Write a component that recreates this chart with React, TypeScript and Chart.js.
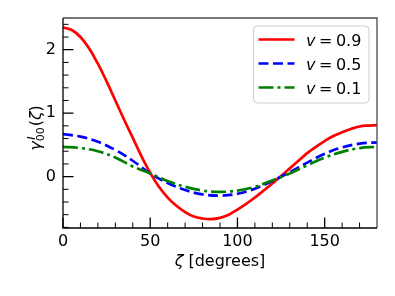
import { useEffect, useRef } from "react";
import { Chart, registerables } from "chart.js";

Chart.register(...registerables);

// ---- data ----
const zetaFine = [0, 5, 10, 15, 20, 25, 30, 35, 40, 45, 50, 55, 60, 65, 70, 75, 80, 85, 90, 95, 100, 105, 110, 115, 120, 125, 130, 135, 140, 145, 150, 155, 160, 165, 170, 175, 180];
const gammaV09 = [2.35, 2.31, 2.2, 2.02, 1.78, 1.5, 1.2, 0.9, 0.61, 0.32, 0.06, -0.16, -0.33, -0.46, -0.56, -0.63, -0.66, -0.67, -0.65, -0.6, -0.52, -0.43, -0.33, -0.22, -0.11, 0.01, 0.13, 0.25, 0.37, 0.47, 0.56, 0.64, 0.7, 0.75, 0.79, 0.805, 0.81];
const zetaCoarse = [0, 10, 20, 30, 40, 50, 60, 70, 80, 90, 100, 110, 120, 130, 140, 150, 160, 170, 180];
const gammaV05 = [0.67, 0.63, 0.55, 0.42, 0.25, 0.05, -0.1, -0.21, -0.28, -0.3, -0.27, -0.19, -0.07, 0.07, 0.22, 0.36, 0.46, 0.52, 0.54];
const gammaV01 = [0.47, 0.45, 0.4, 0.3, 0.16, 0.05, -0.07, -0.16, -0.22, -0.24, -0.22, -0.16, -0.06, 0.05, 0.18, 0.3, 0.39, 0.45, 0.47];

const seriesLabels = ["0.9", "0.5", "0.1"];
const xMajorTicks = [0, 50, 100, 150];
const xMinorTicks = [10, 20, 30, 40, 60, 70, 80, 90, 110, 120, 130, 140, 160, 170];
const yMajorTicks = [0, 1, 2];
const yMinorTicks = [-0.8, -0.6, -0.4, -0.2, 0.2, 0.4, 0.6, 0.8, 1.2, 1.4, 1.6, 1.8, 2.2, 2.4];
const xRange = [0, 180];
const yRange = [-0.81, 2.5];

const FONT = "'DejaVu Sans', 'Liberation Sans', sans-serif";
const styles = [
  { color: "#ff0000", dash: [] as number[] },
  { color: "#0000ff", dash: [10, 4.5] },
  { color: "#008000", dash: [15, 4, 3, 4] },
];

const decorPlugin = {
  id: "decor",
  afterDraw(chart: any) {
    const ctx: CanvasRenderingContext2D = chart.ctx;
    const { left, right, top, bottom } = chart.chartArea;
    const xs = chart.scales.x;
    const ys = chart.scales.y;
    ctx.save();

    // spines
    ctx.lineWidth = 1.3;
    ctx.strokeStyle = "#4a4a4a";
    ctx.beginPath();
    ctx.moveTo(left, top);
    ctx.lineTo(right, top);
    ctx.lineTo(right, bottom);
    ctx.stroke();
    ctx.strokeStyle = "#000";
    ctx.beginPath();
    ctx.moveTo(left, top);
    ctx.lineTo(left, bottom);
    ctx.lineTo(right, bottom);
    ctx.stroke();

    // inward ticks
    ctx.strokeStyle = "#000";
    ctx.lineWidth = 1.3;
    ctx.beginPath();
    for (const v of xMajorTicks) {
      const px = xs.getPixelForValue(v);
      ctx.moveTo(px, bottom);
      ctx.lineTo(px, bottom - 10.5);
    }
    for (const v of yMajorTicks) {
      const py = ys.getPixelForValue(v);
      ctx.moveTo(left, py);
      ctx.lineTo(left + 10.5, py);
    }
    ctx.stroke();
    ctx.lineWidth = 1;
    ctx.beginPath();
    for (const v of xMinorTicks) {
      const px = xs.getPixelForValue(v);
      ctx.moveTo(px, bottom);
      ctx.lineTo(px, bottom - 5.5);
    }
    for (const v of yMinorTicks) {
      const py = ys.getPixelForValue(v);
      ctx.moveTo(left, py);
      ctx.lineTo(left + 5.5, py);
    }
    ctx.stroke();

    // legend
    const lx = 253.5, ly = 26, lw = 115.5, lh = 77;
    ctx.beginPath();
    (ctx as any).roundRect(lx, ly, lw, lh, 4);
    ctx.fillStyle = "rgba(255,255,255,0.85)";
    ctx.fill();
    ctx.strokeStyle = "#cccccc";
    ctx.lineWidth = 1;
    ctx.stroke();
    const rowY = [39.5, 63.5, 87.5];
    seriesLabels.forEach((lab, i) => {
      const y = rowY[i];
      ctx.save();
      ctx.strokeStyle = styles[i].color;
      ctx.lineWidth = 2.6;
      ctx.lineCap = "butt";
      ctx.setLineDash(styles[i].dash);
      ctx.beginPath();
      ctx.moveTo(258.5, y);
      ctx.lineTo(294.5, y);
      ctx.stroke();
      ctx.restore();
      ctx.fillStyle = "#000";
      ctx.textBaseline = "alphabetic";
      ctx.textAlign = "left";
      let x = 306;
      const base = y + 6;
      ctx.font = `italic 16px ${FONT}`;
      ctx.fillText("v", x, base);
      x += ctx.measureText("v").width + 3.5;
      ctx.font = `16px ${FONT}`;
      ctx.fillText("=", x, base);
      x += ctx.measureText("=").width + 3.5;
      ctx.fillText(lab, x, base);
    });

    // x title
    ctx.fillStyle = "#000";
    ctx.textBaseline = "alphabetic";
    ctx.font = `italic 16px ${FONT}`;
    const zw = ctx.measureText("ζ").width;
    ctx.font = `16px ${FONT}`;
    const rest = " [degrees]";
    const rw = ctx.measureText(rest).width;
    const cx = (left + right) / 2;
    const tx = cx - (zw + rw) / 2;
    ctx.textAlign = "left";
    ctx.font = `italic 16px ${FONT}`;
    ctx.fillText("ζ", tx, 266);
    ctx.font = `16px ${FONT}`;
    ctx.fillText(rest, tx + zw, 266);

    // y title (rotated)
    ctx.save();
    ctx.translate(40.5, 128);
    ctx.rotate(-Math.PI / 2);
    ctx.font = `italic 16px ${FONT}`;
    const gw = ctx.measureText("γ").width;
    ctx.font = `italic 11px ${FONT}`;
    const iw = ctx.measureText("I").width;
    ctx.font = `11px ${FONT}`;
    const sw = ctx.measureText("00").width;
    const scriptW = Math.max(iw + 1.5, sw);
    ctx.font = `16px ${FONT}`;
    const pw = ctx.measureText("(").width;
    const pcw = ctx.measureText(")").width;
    ctx.font = `italic 16px ${FONT}`;
    const zw2 = ctx.measureText("ζ").width;
    const total = gw + scriptW + 1 + pw + zw2 + pcw;
    let x = -total / 2;
    ctx.font = `italic 16px ${FONT}`;
    ctx.fillText("γ", x, 0);
    x += gw;
    ctx.font = `italic 11px ${FONT}`;
    ctx.fillText("I", x + 1.5, -6);
    ctx.font = `11px ${FONT}`;
    ctx.fillText("00", x, 3);
    x += scriptW + 1;
    ctx.font = `16px ${FONT}`;
    ctx.fillText("(", x, 0);
    x += pw;
    ctx.font = `italic 16px ${FONT}`;
    ctx.fillText("ζ", x, 0);
    x += zw2;
    ctx.font = `16px ${FONT}`;
    ctx.fillText(")", x, 0);
    ctx.restore();

    ctx.restore();
  },
};

export default function App() {
  const ref = useRef<HTMLCanvasElement | null>(null);
  useEffect(() => {
    if (!ref.current) return;
    const mk = (xs: number[], ys: number[]) => xs.map((x, i) => ({ x, y: ys[i] }));
    const allSeries = [mk(zetaFine, gammaV09), mk(zetaCoarse, gammaV05), mk(zetaCoarse, gammaV01)];
    const chart = new Chart(ref.current, {
      type: "line",
      data: {
        datasets: allSeries.map((d, i) => ({
          label: `v = ${seriesLabels[i]}`,
          data: d,
          borderColor: styles[i].color,
          backgroundColor: styles[i].color,
          borderWidth: 2.7,
          borderDash: styles[i].dash,
          borderCapStyle: "butt" as const,
          pointRadius: 0,
          tension: 0.4,
          fill: false,
          order: 3 - i,
        })),
      },
      options: {
        animation: false,
        responsive: false,
        devicePixelRatio: 1,
        layout: { padding: { left: 0, top: 18, right: 18, bottom: 0 } },
        plugins: { legend: { display: false }, tooltip: { enabled: false } },
        scales: {
          x: {
            type: "linear",
            min: xRange[0],
            max: xRange[1],
            grid: { display: false, drawTicks: false },
            border: { display: false },
            afterBuildTicks: (s: any) => {
              s.ticks = xMajorTicks.map((v) => ({ value: v }));
            },
            afterFit: (s: any) => {
              s.height = 68;
            },
            ticks: { font: { family: FONT, size: 16 }, color: "#000", padding: 4, maxRotation: 0 },
          },
          y: {
            type: "linear",
            min: yRange[0],
            max: yRange[1],
            grid: { display: false, drawTicks: false },
            border: { display: false },
            afterBuildTicks: (s: any) => {
              s.ticks = yMajorTicks.map((v) => ({ value: v }));
            },
            afterFit: (s: any) => {
              s.width = 63;
            },
            ticks: { font: { family: FONT, size: 16 }, color: "#000", padding: 7 },
          },
        },
      },
      plugins: [decorPlugin],
    });
    return () => chart.destroy();
  }, []);
  return (
    <div style={{ position: "fixed", left: 0, top: 0, width: 395, height: 296, background: "#fff" }}>
      <canvas ref={ref} width={395} height={296} style={{ display: "block" }} />
    </div>
  );
}
